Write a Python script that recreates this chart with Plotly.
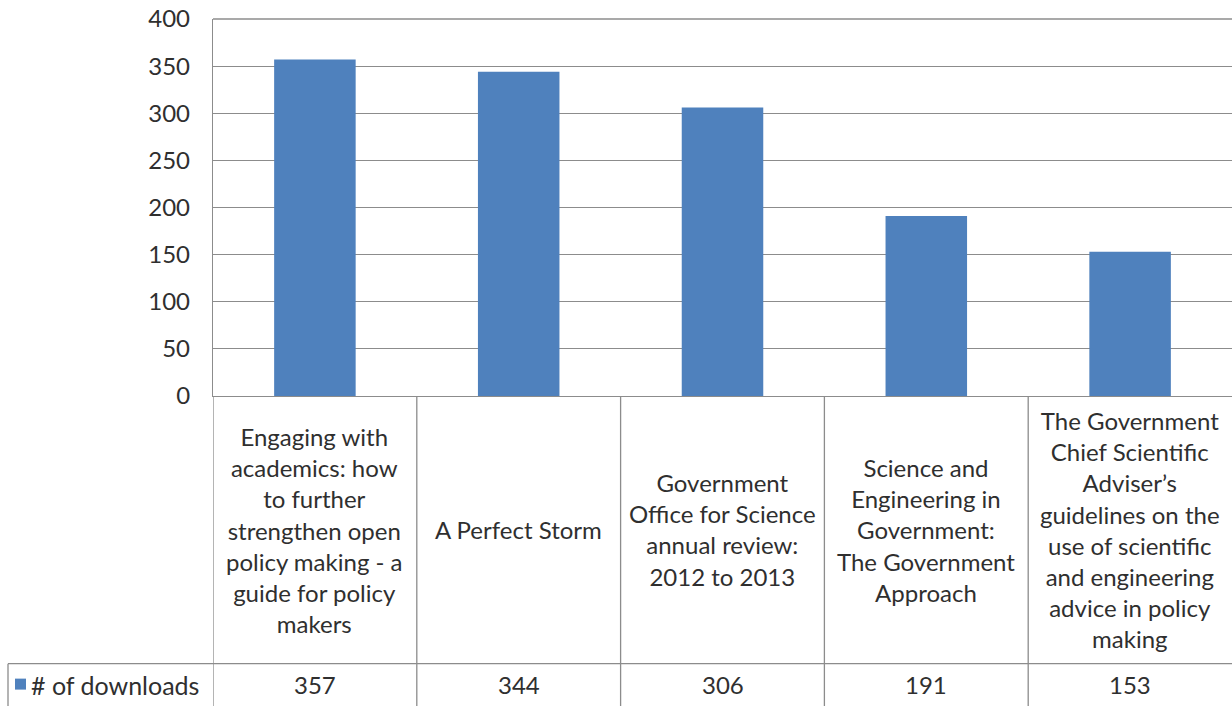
import plotly.graph_objects as go

categories = [
    "Engaging with<br>academics: how<br>to further<br>strengthen open<br>policy making - a<br>guide for policy<br>makers",
    "A Perfect Storm",
    "Government<br>Office for Science<br>annual review:<br>2012 to 2013",
    "Science and<br>Engineering in<br>Government:<br>The Government<br>Approach",
    "The Government<br>Chief Scientific<br>Adviser’s<br>guidelines on the<br>use of scientific<br>and engineering<br>advice in policy<br>making",
]
downloads = [357, 344, 306, 191, 153]
series_name = "# of downloads"
y_ticks = [0, 50, 100, 150, 200, 250, 300, 350, 400]

W, H = 1232, 706
SX_LEFT, SX_RIGHT, SY_TOP, SY_BOTTOM = 213, 1232, 18.5, 396
L = SX_LEFT
R = W - SX_RIGHT
T = SY_TOP
B = H - SY_BOTTOM
PW = W - L - R
PH = H - T - B
BAR_COLOR = "#4F81BD"
GRID = "#8c8c8c"
TXT = "#2f2f2f"
FONT = "Lato"
FS = 24

def px_y(sy):
    return (SY_BOTTOM - sy) / PH

def px_x(sx):
    return (sx - SX_LEFT) / PW

xs = list(range(len(categories)))

fig = go.Figure()
fig.add_trace(go.Bar(x=xs, y=downloads, marker=dict(color=BAR_COLOR, line=dict(width=0)),
                     name=series_name, showlegend=False, hoverinfo="skip"))

shapes = []
shapes.append(dict(type="line", xref="paper", yref="paper", x0=0, x1=1, y0=1, y1=1,
                   line=dict(color=GRID, width=1.3)))
row_y = px_y(664)
bottom_y = px_y(712)
shapes.append(dict(type="line", xref="paper", yref="paper", x0=px_x(8), x1=1, y0=row_y, y1=row_y,
                   line=dict(color=GRID, width=1.3)))
for i in range(len(categories)):
    xb = i - 0.5
    shapes.append(dict(type="line", xref="x", yref="paper", x0=xb, x1=xb, y0=0, y1=bottom_y,
                       line=dict(color=GRID, width=1.3)))
shapes.append(dict(type="line", xref="paper", yref="paper", x0=px_x(8), x1=px_x(8), y0=row_y, y1=bottom_y,
                   line=dict(color=GRID, width=1.3)))
shapes.append(dict(type="rect", xref="paper", yref="paper", x0=px_x(15), x1=px_x(26),
                   y0=px_y(690), y1=px_y(679), fillcolor=BAR_COLOR, line=dict(width=0)))

annotations = []
for i, (c, v) in enumerate(zip(categories, downloads)):
    annotations.append(dict(x=i, y=px_y(530), xref="x", yref="paper", text=c, showarrow=False,
                            xanchor="center", yanchor="middle", align="center",
                            font=dict(family=FONT, size=FS, color=TXT)))
    annotations.append(dict(x=i, y=px_y(685), xref="x", yref="paper", text=str(v), showarrow=False,
                            xanchor="center", yanchor="middle",
                            font=dict(family=FONT, size=FS, color=TXT)))
annotations.append(dict(x=px_x(29), y=px_y(685), xref="paper", yref="paper", text=series_name,
                        showarrow=False, xanchor="left", yanchor="middle",
                        font=dict(family=FONT, size=FS + 1, color=TXT)))

fig.update_layout(
    width=W, height=H,
    margin=dict(l=L, r=R, t=T, b=B, pad=0),
    paper_bgcolor="white", plot_bgcolor="white",
    bargap=0.6,
    shapes=shapes, annotations=annotations,
    xaxis=dict(range=[-0.5, len(categories) - 0.5], showticklabels=False, showgrid=False,
               zeroline=False, showline=True, linecolor=GRID, linewidth=1.3, fixedrange=True),
    yaxis=dict(range=[0, 400], tickvals=y_ticks, showgrid=True, gridcolor=GRID, gridwidth=1.3,
               zeroline=False, showline=True, linecolor=GRID, linewidth=1.3,
               tickfont=dict(family=FONT, size=FS, color=TXT), ticks="", ticklabelstandoff=17,
               fixedrange=True),
    font=dict(family=FONT, color=TXT),
)

fig.write_html("out.html", config={"displayModeBar": False},
               post_script="document.body.style.margin='0';document.body.style.overflow='hidden';")
